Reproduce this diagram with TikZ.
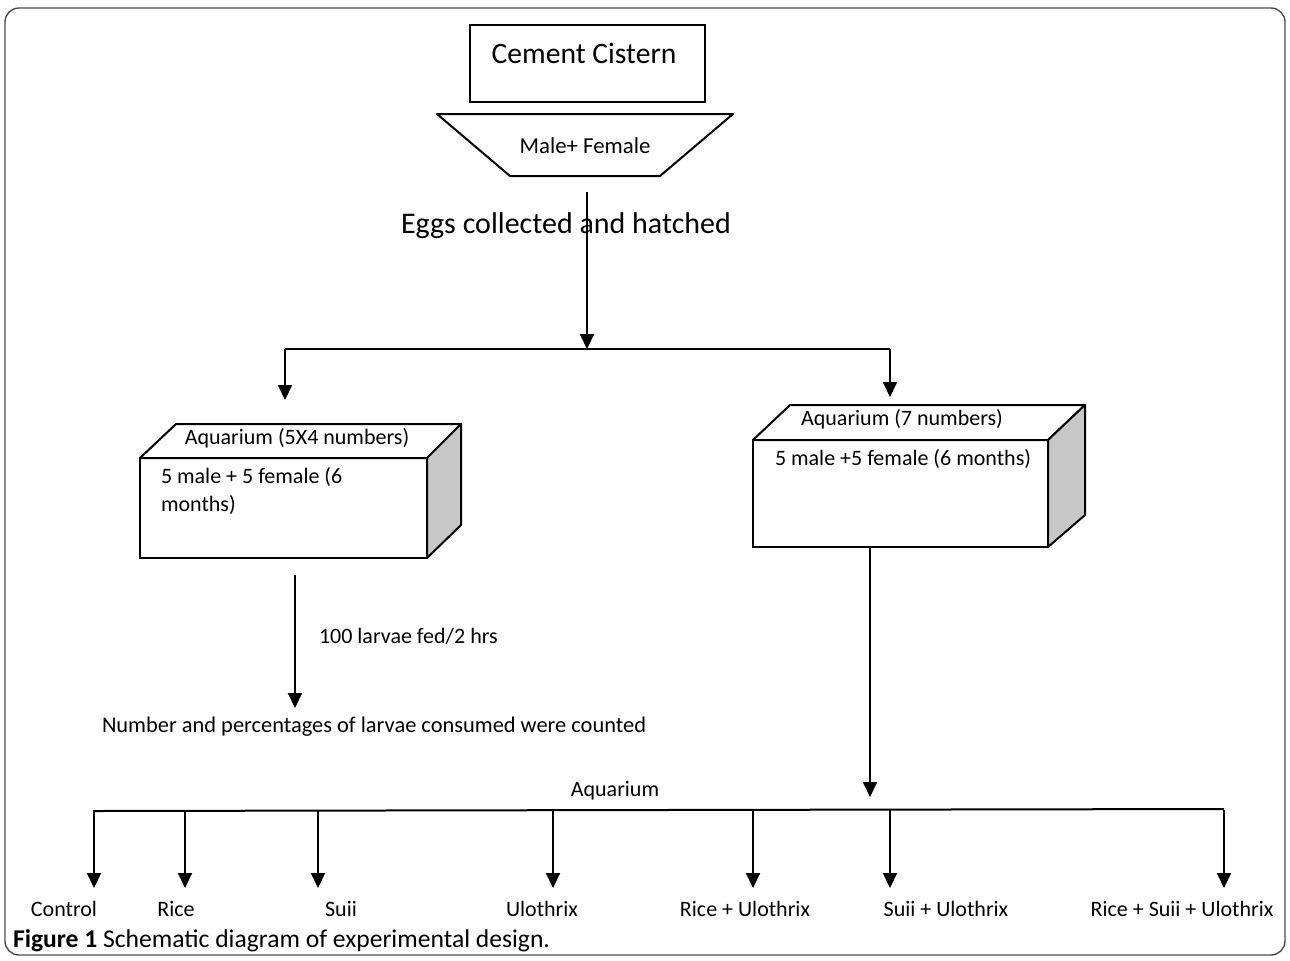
\documentclass[tikz,border=0pt]{standalone}
\usepackage{fontspec}
\setmainfont{Carlito}
\usetikzlibrary{arrows.meta}
\begin{document}
\begin{tikzpicture}[x=0.5pt,y=-0.5pt, line width=1pt,
  arr/.style={-{Triangle[width=7pt,length=7.5pt]}},
  txt/.style={inner sep=0pt, font=\fontsize{11}{13}\selectfont},
  side/.style={draw, fill=black!22, line join=round},
  face/.style={draw, fill=white, line join=round}]
\useasboundingbox (0,0) rectangle (1290,960);
\draw[line width=0.7pt, rounded corners=7pt, black!70] (5,8) rectangle (1285,955);

% Cement cistern
\node (cc) [draw, minimum width=117.5pt, minimum height=38.5pt, inner sep=0pt] at (587.5,63.5) {};
\node (cct) [txt, font=\fontsize{14.8}{16}\selectfont] at (584,53) {Cement Cistern};

% trapezoid
\draw[line join=round] (437,114) -- (733,114) -- (660,176) -- (510,176) -- cycle;
\node (mf) [txt, font=\fontsize{11.4}{13}\selectfont] at (585,146) {Male+ Female};
\coordinate (mfb) at (587,192);

% eggs
\node (eggs) [txt, font=\fontsize{15}{17}\selectfont] at (566,226) {Eggs collected and hatched};
\coordinate (split) at (587,349);
\coordinate (sl) at (285,349);
\coordinate (sr) at (890,349);
\coordinate (al) at (285,400);
\coordinate (ar) at (890,397);
\draw[arr] (mfb) -- (split);
\draw (sl) -- (sr);
\draw[arr] (sl) -- (al);
\draw[arr] (sr) -- (ar);

% left aquarium
\draw[face] (140,458) -- (176,424) -- (461,424) -- (427,458) -- cycle;
\draw[side] (427,458) -- (461,424) -- (461,525) -- (427,558) -- cycle;
\node (la) [draw, minimum width=143.5pt, minimum height=50pt, inner sep=0pt] at (283.5,508) {};
\node (lat) [txt] at (297,438) {Aquarium (5X4 numbers)};
\node (lab) [txt, anchor=north west, align=left, font=\fontsize{11}{14}\selectfont] at (160,466) {5 male + 5 female (6\\months)};

% right aquarium
\draw[face] (753,440) -- (790,405) -- (1085,405) -- (1048,440) -- cycle;
\draw[side] (1048,440) -- (1085,405) -- (1085,515) -- (1048,547) -- cycle;
\node (ra) [draw, minimum width=147.5pt, minimum height=53.5pt, inner sep=0pt] at (900.5,493.5) {};
\node (rat) [txt] at (902,419) {Aquarium (7 numbers)};
\node (rab) [txt] at (903,459) {5 male +5 female (6 months)};

% left branch
\coordinate (lt) at (295,575);
\node (cnt) [txt, font=\fontsize{11.2}{13}\selectfont] at (374,727) {Number and percentages of larvae consumed were counted};
\draw[arr] (lt) -- (295,708);
\node (fed) [txt, anchor=west] at (318,636) {100 larvae fed/2 hrs};

% right branch
\coordinate (rb) at (870,547);
\coordinate (rbe) at (870,797);
\draw[arr] (rb) -- (rbe);
\node (aq) [txt] at (615,791) {Aquarium};

% bottom bus
\coordinate (b1) at (94,811);
\coordinate (b7) at (1224,809);
\draw (b1) -- (b7);
\foreach \x/\n/\t/\tx in {94/c1/Control/64, 185/c2/Rice/176, 318/c3/Suii/341, 553/c4/Ulothrix/542, 753/c5/Rice + Ulothrix/745, 890/c6/Suii + Ulothrix/946, 1224/c7/Rice + Suii + Ulothrix/1182}{
  \coordinate (t\n) at (\x,810);
  \coordinate (h\n) at (\x,888);
  \draw[arr] (t\n) -- (h\n);
  \node (\n) [txt] at (\tx,909) {\t};
}

% caption
\node (cap) [txt, anchor=west, font=\fontsize{12.8}{14}\selectfont] at (12,941) {\textbf{Figure 1} Schematic diagram of experimental design.};
\end{tikzpicture}
\end{document}
